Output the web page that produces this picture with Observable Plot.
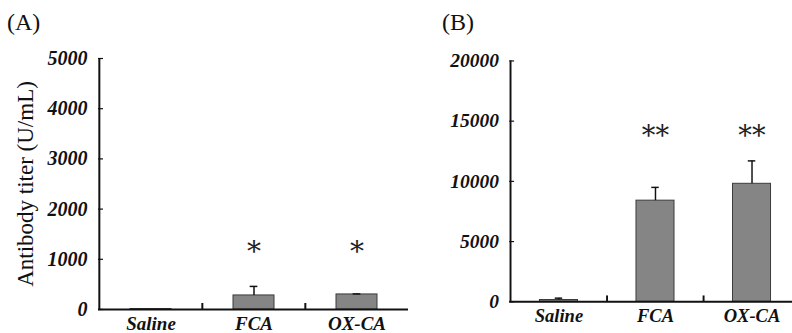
<!DOCTYPE html>
<html>
<head>
<meta charset="utf-8">
<script src="https://cdn.jsdelivr.net/npm/d3@7"></script>
<script src="https://cdn.jsdelivr.net/npm/@observablehq/plot@0.6"></script>
<style>
  html, body { margin: 0; padding: 0; background: #fff; overflow: hidden; }
  #wrap { position: relative; width: 792px; height: 333px; overflow: hidden; }
  .panel { position: absolute; top: 0; }
  .plabel { position: absolute; font-family: "Liberation Serif", serif; font-size: 24px; line-height: 1; color: #111; }
</style>
</head>
<body>
<div id="wrap">
  <div class="plabel" style="left:7px; top:10px;">(A)</div>
  <div class="plabel" style="left:442px; top:10px;">(B)</div>
  <div class="panel" id="pa" style="left:0px;"></div>
  <div class="panel" id="pb" style="left:400px;"></div>
</div>
<script>
const groups = ["Saline", "FCA", "OX-CA"];
// Panel A
const meanA = [10, 280, 300];
const errA = [0, 460, 310];
const starA = ["", "*", "*"];
const starYA = 1275;
const ticksA = [0, 1000, 2000, 3000, 4000, 5000];
// Panel B
const meanB = [150, 8400, 9800];
const errB = [300, 9500, 11700];
const starB = ["", "**", "**"];
const starYB = 14350;
const ticksB = [0, 5000, 10000, 15000, 20000];

const yTitle = "Antibody titer (U/mL)";

function panel({mean, err, star, starY, ticks, ymax, width, marginLeft, marginRight, marginTop, title}) {
  const rows = groups.map((g, i) => ({g, v: mean[i], e: err[i], s: star[i], sy: starY}));
  const plotH = 333 - 24 - marginTop;
  const step = (width - marginLeft - marginRight) / groups.length;
  const inset = Math.round(step * 0.3);
  const marks = [
    Plot.barY(rows, {x: "g", y: "v", fill: "#858585", stroke: "#3a3a3a", strokeWidth: 1, insetLeft: inset, insetRight: inset}),
    Plot.ruleX(rows.filter(d => d.e > d.v), {x: "g", y1: "v", y2: "e", stroke: "#111", strokeWidth: 1.5}),
    Plot.tickY(rows.filter(d => d.e > d.v), {x: "g", y: "e", stroke: "#111", strokeWidth: 1.5, insetLeft: step/2 - 4, insetRight: step/2 - 4}),
    Plot.text(rows.filter(d => d.s), {x: "g", y: "sy", text: "s", fontFamily: "'DejaVu Serif', serif", fontSize: 28, fill: "#222", dy: 7, letterSpacing: 2}),
    // category separator ticks
    Plot.ruleX(groups.slice(1), {x: d => d, dx: -step/2, insetTop: plotH - 6, stroke: "#111", strokeWidth: 2}),
    // inward y ticks
    Plot.ruleY(ticks, {y: d => d, insetRight: width - marginLeft - marginRight - 5, stroke: "#111", strokeWidth: 1.2}),
    Plot.ruleY([0], {stroke: "#111", strokeWidth: 2}),
    Plot.ruleX([groups[0]], {x: d => d, dx: -step/2, stroke: "#111", strokeWidth: 2}),
    Plot.axisY({ticks, tickSize: 0, tickPadding: 11, fontFamily: "'Liberation Serif', serif", fontWeight: "bold", fontStyle: "italic", fontSize: 20, tickFormat: d => String(d), label: null}),
    Plot.axisX({tickSize: 0, tickPadding: 7, fontFamily: "'Liberation Serif', serif", fontWeight: "bold", fontStyle: "italic", fontSize: 19, label: null})
  ];
  if (title) {
    marks.push(Plot.text([title], {frameAnchor: "left", text: d => d, rotate: -90, dx: -73, fontFamily: "'Liberation Serif', serif", fontSize: 23, fill: "#111", textAnchor: "middle"}));
  }
  return Plot.plot({
    width, height: 333,
    marginLeft, marginRight, marginTop, marginBottom: 24,
    style: {background: "transparent", color: "#111", overflow: "visible"},
    x: {type: "band", domain: groups, padding: 0, align: 0.5},
    y: {domain: [0, ymax]},
    marks
  });
}

document.getElementById("pa").appendChild(panel({
  mean: meanA, err: errA, star: starA, starY: starYA, ticks: ticksA, ymax: 5000,
  width: 410, marginLeft: 98, marginRight: 2, marginTop: 58, title: yTitle
}));
document.getElementById("pb").appendChild(panel({
  mean: meanB, err: errB, star: starB, starY: starYB, ticks: ticksB, ymax: 20000,
  width: 402, marginLeft: 112, marginRight: -8, marginTop: 62, title: null
}));
</script>
</body>
</html>
